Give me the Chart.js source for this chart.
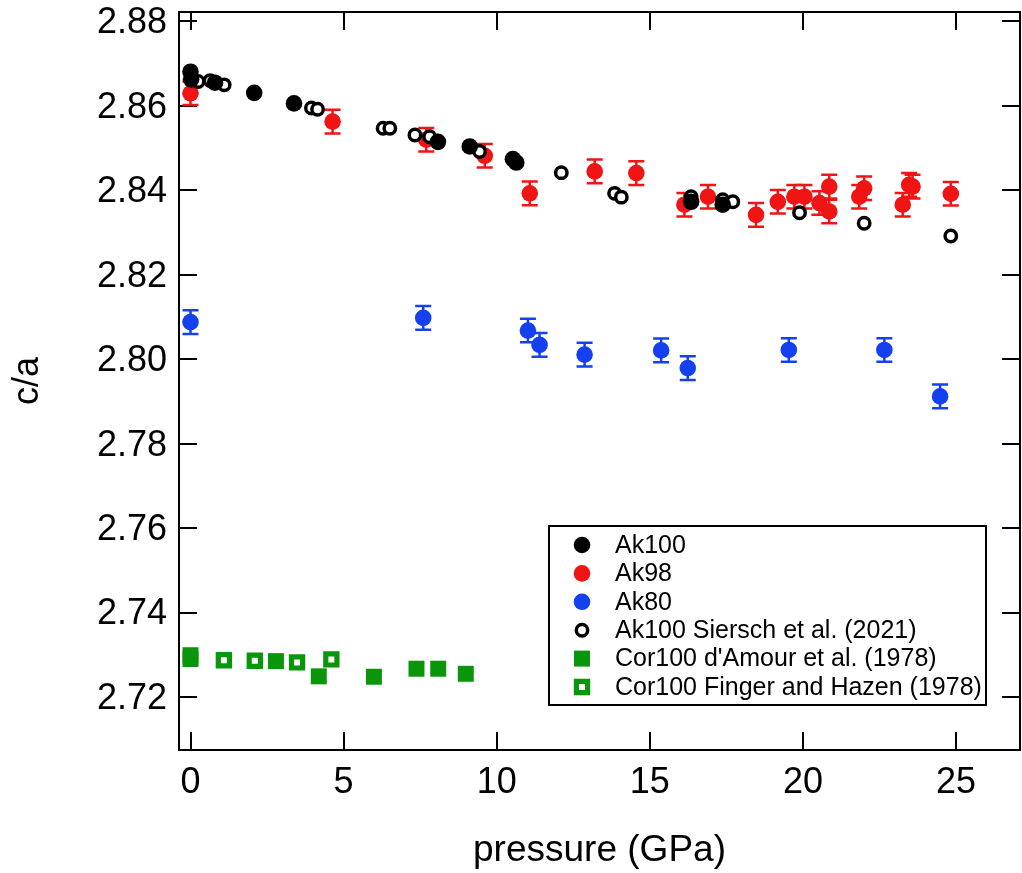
<!DOCTYPE html>
<html>
<head>
<meta charset="utf-8">
<script src="https://cdn.jsdelivr.net/npm/chart.js@4.4.0/dist/chart.umd.min.js"></script>
<style>
  html, body { margin: 0; padding: 0; background: #fff; }
</style>
</head>
<body>
<canvas id="chart" width="1022" height="873"></canvas>
<script>
// c/a ratio against pressure (GPa)
const ak100P  = [0, 0.02, 0.8, 2.08, 3.38, 8.08, 9.12, 10.53, 10.64, 16.35, 17.38];
const ak100CA = [2.8681, 2.8663, 2.8655, 2.8631, 2.8606, 2.8515, 2.8504, 2.8474, 2.8466, 2.8373, 2.8366];

const ak98P   = [0, 4.64, 7.7, 9.61, 11.08, 13.2, 14.56, 16.13, 16.9, 18.47, 19.18, 19.72, 20.05, 20.54, 20.86, 20.86, 21.84, 22.0, 23.26, 23.47, 23.58, 24.83];
const ak98CA  = [2.863, 2.8563, 2.852, 2.8482, 2.8393, 2.8445, 2.8441, 2.8366, 2.8385, 2.8342, 2.8373, 2.8385, 2.8385, 2.837, 2.8409, 2.835, 2.8385, 2.8405, 2.8366, 2.8413, 2.8409, 2.8392];
const ak98Err = [0.0028, 0.0028, 0.0028, 0.0028, 0.0028, 0.0028, 0.0028, 0.0028, 0.0028, 0.0028, 0.0028, 0.0028, 0.0028, 0.0028, 0.0028, 0.0028, 0.0028, 0.0028, 0.0028, 0.0028, 0.0028, 0.0028];

const ak80P   = [0, 7.6, 11.02, 11.4, 12.87, 15.37, 16.24, 19.54, 22.66, 24.48];
const ak80CA  = [2.8088, 2.8098, 2.8068, 2.8034, 2.8011, 2.8021, 2.7979, 2.8022, 2.8022, 2.7912];
const ak80Err = [0.0028, 0.0028, 0.0028, 0.0028, 0.0028, 0.0028, 0.0028, 0.0028, 0.0028, 0.0028];

const sierschP  = [0.25, 0.64, 1.1, 3.95, 4.15, 6.29, 6.51, 7.33, 7.81, 9.44, 12.11, 13.85, 14.07, 16.35, 17.38, 17.71, 19.89, 22.0, 24.83];
const sierschCA = [2.8658, 2.866, 2.865, 2.8595, 2.8592, 2.8547, 2.8547, 2.8531, 2.8527, 2.8492, 2.8442, 2.8393, 2.8384, 2.8385, 2.8378, 2.8373, 2.8347, 2.8322, 2.8292];

const amourP  = [0, 0, 2.79, 4.19, 5.99, 7.38, 8.09, 8.99];
const amourCA = [2.7299, 2.729, 2.7285, 2.7249, 2.7248, 2.7267, 2.7267, 2.7255];

const fingerP  = [1.09, 2.1, 3.48, 4.6];
const fingerCA = [2.7287, 2.7286, 2.7282, 2.7289];

const xTicks = [0, 5, 10, 15, 20, 25];
const yTicks = [2.72, 2.74, 2.76, 2.78, 2.80, 2.82, 2.84, 2.86, 2.88];

const FONT = "'Liberation Sans', Arial, Helvetica, sans-serif";
const RED = '#f01414';
const BLUE = '#1440f0';
const GREEN = '#0a960a';

function pts(xs, ys) {
  return xs.map((x, i) => ({ x: x, y: ys[i] }));
}

// vertical error bars with caps, drawn just under each dataset's points
const errorBars = {
  id: 'errorBars',
  beforeDatasetDraw(chart, args) {
    const ds = chart.data.datasets[args.index];
    if (!ds.errors) return;
    const xs = chart.scales.x, ys = chart.scales.y, ctx = chart.ctx;
    ctx.save();
    ctx.strokeStyle = ds.backgroundColor;
    ctx.lineWidth = 2.5;
    ds.data.forEach((p, i) => {
      const px = xs.getPixelForValue(p.x);
      const hi = ys.getPixelForValue(p.y + ds.errors[i]);
      const lo = ys.getPixelForValue(p.y - ds.errors[i]);
      ctx.beginPath();
      ctx.moveTo(px, hi); ctx.lineTo(px, lo);
      ctx.moveTo(px - 8, hi); ctx.lineTo(px + 8, hi);
      ctx.moveTo(px - 8, lo); ctx.lineTo(px + 8, lo);
      ctx.stroke();
    });
    ctx.restore();
  }
};

// closed frame with inward ticks on all four sides, plus the tick labels
const frame = {
  id: 'frame',
  beforeDatasetsDraw(chart) {
    const { ctx, chartArea: a } = chart;
    const xs = chart.scales.x, ys = chart.scales.y;
    const len = 18;
    ctx.save();
    ctx.strokeStyle = '#000';
    ctx.lineWidth = 2;
    ctx.strokeRect(a.left, a.top, a.right - a.left, a.bottom - a.top);
    ctx.beginPath();
    xTicks.forEach(v => {
      const px = Math.round(xs.getPixelForValue(v));
      ctx.moveTo(px, a.bottom); ctx.lineTo(px, a.bottom - len);
      ctx.moveTo(px, a.top); ctx.lineTo(px, a.top + len);
    });
    yTicks.forEach(v => {
      const py = Math.round(ys.getPixelForValue(v));
      ctx.moveTo(a.left, py); ctx.lineTo(a.left + len, py);
      ctx.moveTo(a.right, py); ctx.lineTo(a.right - len, py);
    });
    ctx.stroke();

    ctx.fillStyle = '#000';
    ctx.font = '36px ' + FONT;
    ctx.textBaseline = 'middle';
    ctx.textAlign = 'center';
    xTicks.forEach(v => {
      ctx.fillText(String(v), xs.getPixelForValue(v), a.bottom + 33);
    });
    ctx.textAlign = 'right';
    yTicks.forEach(v => {
      ctx.fillText(v.toFixed(2), a.left - 12, ys.getPixelForValue(v) + 2);
    });
    ctx.restore();
  }
};

// boxed legend inside the lower right of the plot
const boxLegend = {
  id: 'boxLegend',
  afterDraw(chart) {
    const ctx = chart.ctx;
    const box = { x: 549, y: 526, w: 437, h: 179 };
    ctx.save();
    ctx.fillStyle = '#fff';
    ctx.fillRect(box.x, box.y, box.w, box.h);
    ctx.strokeStyle = '#000';
    ctx.lineWidth = 2;
    ctx.strokeRect(box.x, box.y, box.w, box.h);
    ctx.font = '25px ' + FONT;
    ctx.textBaseline = 'middle';
    chart.data.datasets.forEach((ds, i) => {
      const cy = 545 + i * 28.4;
      ctx.fillStyle = ds.backgroundColor;
      ctx.strokeStyle = ds.borderColor;
      ctx.lineWidth = ds.borderWidth;
      Chart.helpers.drawPoint(ctx, {
        pointStyle: ds.pointStyle, radius: ds.pointRadius,
        borderWidth: ds.borderWidth, rotation: 0
      }, 582, cy);
      ctx.fillStyle = '#000';
      ctx.fillText(ds.label, 615, cy + 1);
    });
    ctx.restore();
  }
};

new Chart(document.getElementById('chart'), {
  type: 'scatter',
  data: {
    datasets: [
      { label: 'Ak100', data: pts(ak100P, ak100CA), order: 0,
        pointStyle: 'circle', pointRadius: 8.3, borderWidth: 0,
        backgroundColor: '#000', borderColor: '#000' },
      { label: 'Ak98', data: pts(ak98P, ak98CA), errors: ak98Err, order: 2,
        pointStyle: 'circle', pointRadius: 8.3, borderWidth: 0,
        backgroundColor: RED, borderColor: RED },
      { label: 'Ak80', data: pts(ak80P, ak80CA), errors: ak80Err, order: 3,
        pointStyle: 'circle', pointRadius: 8.3, borderWidth: 0,
        backgroundColor: BLUE, borderColor: BLUE },
      { label: 'Ak100 Siersch et al. (2021)', data: pts(sierschP, sierschCA), order: 1,
        pointStyle: 'circle', pointRadius: 5.7, borderWidth: 3.5,
        backgroundColor: '#fff', borderColor: '#000' },
      { label: "Cor100 d'Amour et al. (1978)", data: pts(amourP, amourCA), order: 5,
        pointStyle: 'rect', pointRadius: 11.3, borderWidth: 0,
        backgroundColor: GREEN, borderColor: GREEN },
      { label: 'Cor100 Finger and Hazen (1978)', data: pts(fingerP, fingerCA), order: 4,
        pointStyle: 'rect', pointRadius: 7.9, borderWidth: 5.2,
        backgroundColor: '#fff', borderColor: GREEN }
    ]
  },
  options: {
    responsive: false,
    animation: false,
    events: [],
    layout: { autoPadding: false, padding: { top: 12, right: 2, left: 0, bottom: 0 } },
    plugins: {
      legend: { display: false },
      tooltip: { enabled: false }
    },
    scales: {
      x: {
        type: 'linear',
        min: -0.3756,
        max: 27.09,
        grid: { display: false, drawTicks: false },
        border: { display: false },
        afterBuildTicks: s => { s.ticks = xTicks.map(v => ({ value: v })); },
        afterFit: s => { s.height = 123; },
        ticks: { display: false },
        title: {
          display: true,
          text: 'pressure (GPa)',
          color: '#000',
          font: { family: FONT, size: 37 },
          padding: { top: 0, bottom: 0 }
        }
      },
      y: {
        type: 'linear',
        min: 2.70745,
        max: 2.88225,
        grid: { display: false, drawTicks: false },
        border: { display: false },
        afterBuildTicks: s => { s.ticks = yTicks.map(v => ({ value: v })); },
        afterFit: s => { s.width = 179; },
        ticks: { display: false },
        title: {
          display: true,
          text: 'c/a',
          color: '#000',
          font: { family: FONT, size: 36 },
          padding: { top: 6, bottom: 0 }
        }
      }
    }
  },
  plugins: [frame, errorBars, boxLegend]
});
</script>
</body>
</html>
